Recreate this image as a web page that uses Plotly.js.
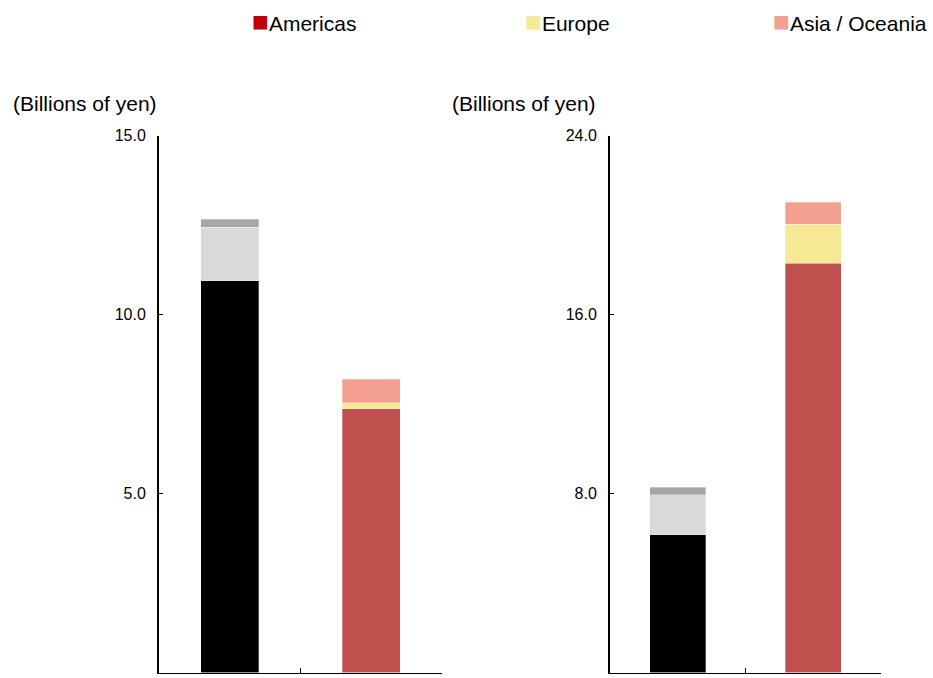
<!DOCTYPE html>
<html>
<head>
<meta charset="utf-8">
<script src="https://cdn.plot.ly/plotly-3.0.1.min.js"></script>
<style>html,body{margin:0;padding:0;background:#fff;}#chart{width:933px;height:678px;}</style>
</head>
<body>
<div id="chart"></div>
<script>
// ---- data (billions of yen) ----
const categories = ["Bar 1", "Bar 2"];
const regionNames = ["Americas", "Europe", "Asia / Oceania"];
// left panel
const leftGreySegments = [10.94, 1.50, 0.22];   // black, light grey, dark grey (bottom to top)
const leftRegionSegments = [7.37, 0.17, 0.66];  // Americas, Europe, Asia / Oceania
// right panel
const rightGreySegments = [6.16, 1.79, 0.34];
const rightRegionSegments = [18.29, 1.75, 0.99];
const leftTicks = [0, 5, 10, 15];
const rightTicks = [0, 8, 16, 24];

const greyColors = ["#000000", "#D9D9D9", "#A6A6A6"];
const regionBarColors = ["#C0504D", "#F7E896", "#F4A090"];
const regionLegendColors = ["#C00000", "#F7E896", "#F4A090"];
const font = "Arial, 'Liberation Sans', sans-serif";

const traces = [];
function addPanel(greySeg, regionSeg, xa, ya) {
  greySeg.forEach((v, i) => traces.push({
    type: "bar", x: [categories[0]], y: [v], xaxis: xa, yaxis: ya,
    width: 0.41, marker: {color: greyColors[i], line: {color: "rgba(255,255,255,0.6)", width: 0.5}},
    showlegend: false, hoverinfo: "y"
  }));
  regionSeg.forEach((v, i) => traces.push({
    type: "bar", x: [categories[1]], y: [v], xaxis: xa, yaxis: ya,
    width: 0.41, marker: {color: regionBarColors[i], line: {color: "rgba(255,255,255,0.6)", width: 0.5}},
    showlegend: false, name: regionNames[i], hoverinfo: "y+name"
  }));
}
addPanel(leftGreySegments, leftRegionSegments, "x", "y");
addPanel(rightGreySegments, rightRegionSegments, "x2", "y2");
// legend entries: symbol drawn as a coloured square glyph right before the text
const legendIds = ["legend", "legend2", "legend3"];
regionNames.forEach((n, i) => traces.push({
  type: "bar", x: [categories[1]], y: [null], xaxis: "x", yaxis: "y",
  name: '<span style="color:' + regionLegendColors[i] + ';font-size:28px">\u25A0</span>' + n,
  marker: {color: "rgba(0,0,0,0)"}, showlegend: true, legend: legendIds[i]
}));

const W = 933, H = 678;
const yDom = [1 - 672.5 / H, 1 - 135.7 / H];
const xAxisCommon = {
  type: "category", showline: true, linecolor: "#000", linewidth: 1.5,
  ticks: "inside", tickson: "boundaries", ticklen: 5, tickwidth: 1.5, tickcolor: "#000",
  showticklabels: false, showgrid: false, zeroline: false, fixedrange: true
};
const yAxisCommon = {
  showline: true, linecolor: "#000", linewidth: 2,
  ticks: "inside", ticklen: 4, tickwidth: 1.5, tickcolor: "#000",
  tickformat: ".1f", showgrid: false, zeroline: false,
  tickfont: {family: font, size: 16, color: "#000"}, ticklabelstandoff: 8
};
function legendAt(xpx) {
  return {
    xref: "container", yref: "container", x: xpx / W, y: 1 - 23 / H,
    xanchor: "left", yanchor: "middle", orientation: "h",
    font: {family: font, size: 21, color: "#000"}, bgcolor: "rgba(0,0,0,0)",
    itemwidth: 30, tracegroupgap: 0
  };
}
const layout = {
  width: W, height: H,
  margin: {l: 0, r: 0, t: 0, b: 0, autoexpand: false},
  paper_bgcolor: "#fff", plot_bgcolor: "#fff",
  barmode: "stack", bargap: 0.59,
  font: {family: font, color: "#000"},
  xaxis: Object.assign({}, xAxisCommon, {domain: [159 / W, 442 / W], anchor: "y", categoryarray: categories, categoryorder: "array", range: [-0.5, 1.5]}),
  yaxis: Object.assign({}, yAxisCommon, {domain: yDom, anchor: "x", range: [0, 15], tickvals: leftTicks}),
  xaxis2: Object.assign({}, xAxisCommon, {domain: [610 / W, 881 / W], anchor: "y2", categoryarray: categories, categoryorder: "array", range: [-0.5, 1.5]}),
  yaxis2: Object.assign({}, yAxisCommon, {domain: yDom, anchor: "x2", range: [0, 24], tickvals: rightTicks}),
  legend: legendAt(212),
  legend2: legendAt(485),
  legend3: legendAt(733),
  annotations: [
    {xref: "x domain", yref: "y domain", x: 0, y: 1, xanchor: "right", yanchor: "middle",
     xshift: 0, yshift: 32, text: "(Billions of yen)", showarrow: false,
     font: {family: font, size: 21, color: "#000"}},
    {xref: "x2 domain", yref: "y2 domain", x: 0, y: 1, xanchor: "right", yanchor: "middle",
     xshift: -12, yshift: 32, text: "(Billions of yen)", showarrow: false,
     font: {family: font, size: 21, color: "#000"}}
  ]
};
Plotly.newPlot("chart", traces, layout, {displayModeBar: false, staticPlot: true});
</script>
</body>
</html>
